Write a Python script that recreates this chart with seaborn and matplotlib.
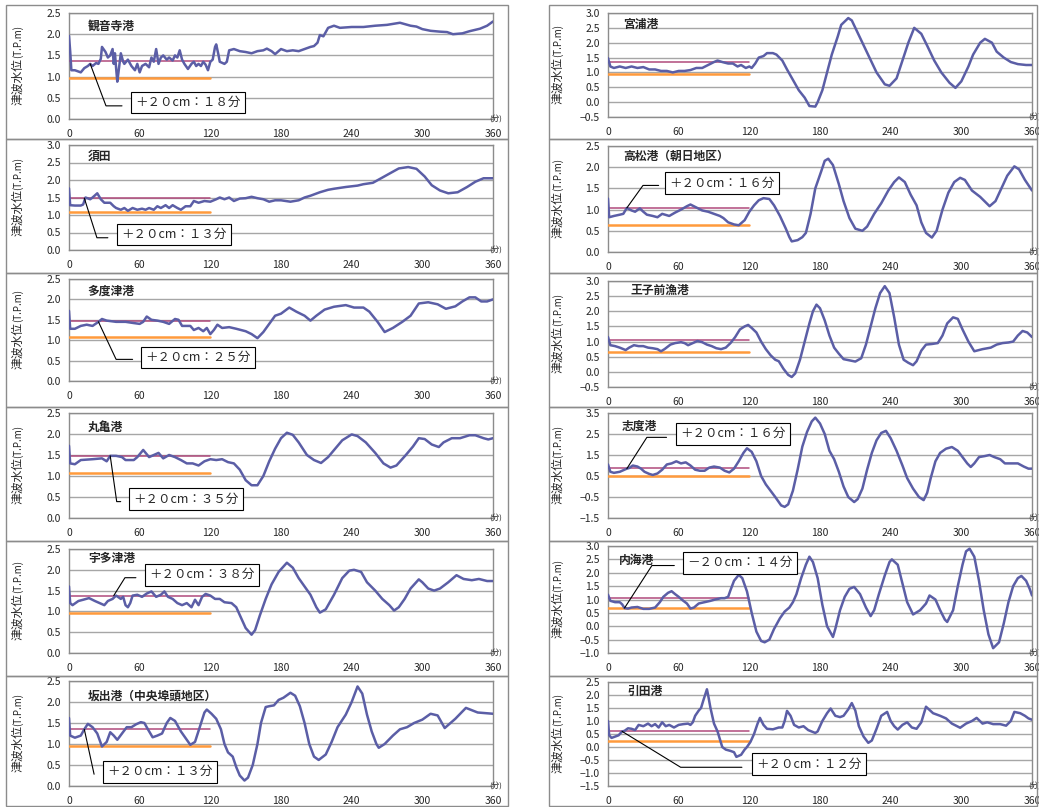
import matplotlib
matplotlib.use("Agg")
import matplotlib.pyplot as plt
import seaborn as sns
from matplotlib.patches import Rectangle
from matplotlib.ticker import FixedLocator, FuncFormatter

sns.set_style("white")
plt.rcParams["font.family"] = ["Noto Sans CJK JP", "DejaVu Sans"]

# ---------------------------------------------------------------- data
minute_ticks = [0, 60, 120, 180, 240, 300, 360]

# 観音寺港
kanonji_t = [0, 1, 2, 5, 8, 10, 13, 16, 18, 20,
             23, 25, 27, 28, 30, 31, 33, 35, 37, 38,
             39, 40, 41, 42, 44, 46, 47, 50, 53, 56,
             58, 60, 62, 65, 68, 70, 72, 74, 76, 78,
             80, 83, 85, 88, 90, 92, 94, 96, 98, 101,
             104, 106, 108, 110, 112, 114, 116, 118, 120, 122,
             124, 125, 127, 128, 132, 134, 136, 140, 145, 150,
             155, 160, 165, 168, 172, 175, 180, 185, 190, 195,
             200, 205, 208, 211, 213, 216, 218, 220, 225, 230,
             240, 250, 260, 270, 281, 290, 295, 300, 307, 315,
             321, 326, 334, 340, 349, 355, 360]
kanonji_lv = [1.96, 1.6, 1.15, 1.15, 1.12, 1.1, 1.2, 1.25, 1.3, 1.25,
              1.32, 1.3, 1.42, 1.7, 1.62, 1.58, 1.45, 1.5, 1.65, 1.3,
              1.55, 1.2, 0.88, 1.1, 1.55, 1.35, 1.3, 1.4, 1.25, 1.15,
              1.3, 1.1, 1.25, 1.3, 1.22, 1.45, 1.35, 1.65, 1.3, 1.45,
              1.5, 1.4, 1.45, 1.38, 1.5, 1.45, 1.62, 1.4, 1.3, 1.18,
              1.3, 1.35, 1.25, 1.3, 1.25, 1.35, 1.28, 1.15, 1.35, 1.4,
              1.7, 1.76, 1.5, 1.35, 1.3, 1.35, 1.62, 1.65, 1.6, 1.58,
              1.55, 1.6, 1.62, 1.66, 1.6, 1.53, 1.65, 1.6, 1.62, 1.6,
              1.65, 1.7, 1.72, 1.8, 1.98, 1.95, 2.05, 2.15, 2.2, 2.15,
              2.17, 2.17, 2.2, 2.22, 2.27, 2.2, 2.18, 2.12, 2.08, 2.06,
              2.05, 2.0, 2.02, 2.07, 2.13, 2.2, 2.3]

# 須田
suda_t = [0, 1, 5, 10, 12, 14, 18, 20, 24, 27,
          30, 35, 38, 40, 44, 47, 50, 54, 58, 62,
          65, 68, 72, 75, 78, 82, 85, 88, 92, 95,
          99, 103, 106, 110, 115, 120, 125, 128, 132, 136,
          140, 145, 150, 155, 160, 165, 170, 175, 180, 188,
          195, 200, 205, 213, 220, 225, 235, 245, 250, 258,
          265, 273, 280, 288, 295, 302, 308, 315, 322, 330,
          338, 345, 352, 360]
suda_lv = [1.76, 1.28, 1.27, 1.27, 1.3, 1.5, 1.45, 1.5, 1.62, 1.45,
           1.35, 1.35, 1.25, 1.2, 1.15, 1.2, 1.12, 1.2, 1.15, 1.18,
           1.15, 1.2, 1.15, 1.25, 1.2, 1.28, 1.2, 1.28, 1.2, 1.15,
           1.25, 1.25, 1.4, 1.35, 1.4, 1.38, 1.45, 1.5, 1.45, 1.5,
           1.4, 1.47, 1.48, 1.52, 1.48, 1.45, 1.38, 1.42, 1.42, 1.38,
           1.42, 1.5, 1.55, 1.65, 1.72, 1.75, 1.8, 1.84, 1.88, 1.92,
           2.05, 2.2, 2.33, 2.37, 2.32, 2.1, 1.85, 1.7, 1.62, 1.65,
           1.8, 1.95, 2.05, 2.05]

# 多度津港
tadotsu_t = [0, 1, 5, 10, 15, 20, 25, 28, 32, 40,
             48, 55, 60, 63, 66, 70, 75, 80, 85, 90,
             93, 96, 103, 106, 110, 114, 117, 120, 123, 126,
             130, 136, 142, 150, 155, 160, 165, 170, 175, 180,
             187, 193, 200, 205, 210, 217, 225, 235, 242, 250,
             255, 262, 268, 275, 283, 290, 297, 305, 313, 320,
             328, 334, 340, 345, 350, 355, 360]
tadotsu_lv = [1.72, 1.28, 1.28, 1.35, 1.38, 1.35, 1.45, 1.52, 1.48, 1.45,
              1.45, 1.42, 1.4, 1.45, 1.58, 1.5, 1.48, 1.45, 1.4, 1.52,
              1.5, 1.35, 1.35, 1.25, 1.3, 1.22, 1.3, 1.15, 1.25, 1.38,
              1.3, 1.32, 1.28, 1.22, 1.15, 1.05, 1.2, 1.4, 1.6, 1.65,
              1.8, 1.7, 1.6, 1.48, 1.6, 1.75, 1.82, 1.86, 1.8, 1.8,
              1.7, 1.45, 1.2, 1.3, 1.45, 1.6, 1.9, 1.93, 1.88, 1.77,
              1.83, 1.95, 2.05, 2.05, 1.95, 1.95, 2.0]

# 丸亀港
marugame_t = [0, 1, 5, 10, 20, 28, 32, 35, 40, 45,
              48, 55, 58, 63, 68, 72, 76, 80, 85, 90,
              95, 100, 105, 110, 115, 120, 125, 130, 135, 140,
              145, 150, 155, 160, 165, 170, 175, 180, 185, 190,
              195, 202, 208, 214, 220, 226, 232, 240, 245, 252,
              260, 267, 273, 278, 286, 292, 297, 302, 308, 314,
              318, 325, 332, 340, 345, 352, 356, 360]
marugame_lv = [1.72, 1.3, 1.28, 1.38, 1.4, 1.42, 1.35, 1.48, 1.48, 1.45,
               1.38, 1.38, 1.45, 1.62, 1.45, 1.5, 1.55, 1.42, 1.5, 1.45,
               1.38, 1.3, 1.3, 1.25, 1.35, 1.4, 1.38, 1.4, 1.33, 1.3,
               1.15, 0.9, 0.78, 0.78, 1.0, 1.35, 1.65, 1.9, 2.03, 1.98,
               1.8, 1.5, 1.38, 1.31, 1.45, 1.65, 1.85, 1.99, 1.95, 1.8,
               1.55, 1.3, 1.2, 1.25, 1.5, 1.7, 1.9, 1.88, 1.75, 1.69,
               1.8, 1.9, 1.9, 1.97, 1.97, 1.9, 1.87, 1.9]

# 宇多津港
utazu_t = [0, 1, 3, 8, 12, 17, 22, 26, 30, 33,
           37, 40, 44, 46, 48, 50, 52, 54, 58, 62,
           66, 70, 74, 78, 81, 84, 88, 92, 96, 100,
           104, 107, 110, 113, 116, 120, 124, 128, 132, 138,
           142, 146, 150, 155, 158, 162, 167, 172, 178, 185,
           190, 195, 200, 205, 210, 213, 218, 225, 232, 238,
           242, 248, 253, 260, 266, 272, 276, 280, 285, 290,
           297, 300, 305, 310, 315, 322, 329, 335, 342, 348,
           355, 360]
utazu_lv = [1.6, 1.2, 1.15, 1.25, 1.28, 1.32, 1.25, 1.2, 1.15, 1.25,
            1.3, 1.38, 1.3, 1.35, 1.15, 1.1, 1.2, 1.38, 1.4, 1.35,
            1.43, 1.48, 1.35, 1.4, 1.48, 1.35, 1.3, 1.2, 1.15, 1.2,
            1.1, 1.28, 1.15, 1.35, 1.42, 1.38, 1.3, 1.3, 1.22, 1.2,
            1.1, 0.85, 0.6, 0.44, 0.55, 0.9, 1.3, 1.65, 1.95, 2.17,
            2.05, 1.8, 1.6, 1.4, 1.1, 0.97, 1.05, 1.4, 1.8, 1.98,
            2.0, 1.95, 1.7, 1.5, 1.3, 1.15, 1.02, 1.1, 1.3, 1.55,
            1.77, 1.7, 1.55, 1.5, 1.55, 1.7, 1.87, 1.78, 1.75, 1.78,
            1.73, 1.73]

# 坂出港（中央埠頭地区）
sakaide_t = [0, 1, 5, 10, 13, 16, 20, 24, 28, 32,
             35, 38, 41, 45, 49, 53, 57, 61, 64, 67,
             71, 75, 79, 83, 86, 90, 95, 100, 103, 107,
             111, 115, 117, 121, 125, 129, 132, 135, 139, 142,
             145, 149, 152, 156, 160, 163, 167, 170, 174, 178,
             182, 188, 192, 196, 200, 204, 208, 212, 218, 223,
             228, 235, 240, 245, 249, 253, 257, 261, 263, 268,
             275, 281, 287, 293, 300, 307, 313, 319, 328, 337,
             347, 360]
sakaide_lv = [1.62, 1.2, 1.15, 1.2, 1.35, 1.48, 1.4, 1.25, 0.94, 1.05,
              1.28, 1.2, 1.1, 1.25, 1.4, 1.4, 1.47, 1.52, 1.5, 1.35,
              1.16, 1.2, 1.25, 1.5, 1.62, 1.55, 1.3, 1.1, 0.98, 1.05,
              1.4, 1.75, 1.82, 1.72, 1.6, 1.35, 1.0, 0.8, 0.7, 0.45,
              0.25, 0.13, 0.2, 0.5, 1.0, 1.5, 1.88, 1.9, 1.92, 2.05,
              2.1, 2.22, 2.15, 1.9, 1.5, 1.0, 0.7, 0.62, 0.75, 1.05,
              1.4, 1.7, 2.0, 2.37, 2.2, 1.7, 1.3, 1.0, 0.91, 1.0,
              1.2, 1.35, 1.4, 1.5, 1.58, 1.72, 1.68, 1.38, 1.6, 1.86,
              1.75, 1.72]

# 宮浦港
miyaura_t = [0, 2, 5, 10, 15, 20, 25, 30, 35, 40,
             45, 50, 55, 60, 65, 70, 75, 80, 85, 90,
             93, 97, 102, 106, 110, 113, 117, 120, 122, 125,
             128, 132, 135, 140, 143, 148, 152, 157, 162, 167,
             171, 176, 178, 182, 186, 190, 195, 198, 204, 207,
             210, 216, 222, 228, 235, 239, 245, 250, 255, 260,
             266, 271, 277, 283, 290, 295, 300, 306, 310, 316,
             320, 326, 330, 336, 342, 348, 355, 360]
miyaura_lv = [1.48, 1.2, 1.15, 1.2, 1.15, 1.2, 1.15, 1.18, 1.1, 1.1,
              1.05, 1.05, 1.0, 1.05, 1.05, 1.08, 1.15, 1.15, 1.25, 1.35,
              1.4, 1.35, 1.3, 1.3, 1.2, 1.25, 1.15, 1.2, 1.15, 1.3,
              1.5, 1.55, 1.65, 1.65, 1.6, 1.4, 1.1, 0.75, 0.4, 0.15,
              -0.13, -0.15, 0.0, 0.4, 1.0, 1.6, 2.2, 2.6, 2.83, 2.75,
              2.5, 2.0, 1.5, 1.0, 0.6, 0.55, 0.8, 1.4, 2.0, 2.5,
              2.3, 1.9, 1.4, 1.0, 0.65, 0.48, 0.7, 1.2, 1.6, 2.0,
              2.13, 2.0, 1.7, 1.5, 1.35, 1.28, 1.25, 1.25]

# 高松港（朝日地区）
takamatsu_t = [0, 1, 5, 10, 13, 16, 20, 23, 27, 30,
               33, 38, 42, 46, 52, 57, 62, 67, 70, 75,
               80, 85, 90, 95, 98, 102, 107, 111, 116, 120,
               124, 128, 132, 137, 141, 146, 151, 154, 156, 161,
               165, 168, 172, 176, 181, 184, 187, 191, 196, 200,
               205, 210, 216, 220, 226, 232, 238, 243, 247, 252,
               257, 262, 266, 270, 275, 279, 284, 289, 294, 299,
               303, 309, 316, 324, 329, 334, 339, 345, 349, 354,
               360]
takamatsu_lv = [1.26, 0.82, 0.85, 0.88, 0.9, 1.04, 0.98, 0.95, 1.03, 0.95,
                0.88, 0.85, 0.82, 0.9, 0.85, 0.93, 1.0, 1.08, 1.12, 1.05,
                0.98, 0.95, 0.9, 0.85, 0.8, 0.7, 0.65, 0.63, 0.75, 0.95,
                1.1, 1.22, 1.27, 1.25, 1.1, 0.85, 0.55, 0.35, 0.25, 0.28,
                0.35, 0.45, 0.9, 1.5, 1.9, 2.15, 2.2, 2.05, 1.6, 1.2,
                0.8, 0.55, 0.5, 0.6, 0.9, 1.15, 1.45, 1.65, 1.76, 1.65,
                1.35, 1.1, 0.7, 0.45, 0.34, 0.5, 1.0, 1.4, 1.65, 1.75,
                1.7, 1.45, 1.3, 1.08, 1.2, 1.5, 1.8, 2.02, 1.95, 1.7,
                1.45]

# 王子前漁港
ojimae_t = [0, 2, 6, 10, 15, 18, 22, 26, 30, 34,
            38, 42, 45, 48, 53, 57, 62, 65, 68, 72,
            76, 80, 84, 88, 92, 96, 100, 104, 108, 112,
            116, 119, 122, 126, 130, 134, 138, 142, 145, 149,
            153, 156, 159, 163, 167, 171, 174, 177, 180, 184,
            188, 192, 196, 200, 205, 210, 215, 219, 223, 227,
            231, 235, 239, 243, 247, 251, 255, 259, 262, 266,
            270, 275, 280, 284, 288, 293, 297, 301, 306, 311,
            318, 325, 330, 335, 340, 344, 348, 352, 356, 360]
ojimae_lv = [1.15, 0.88, 0.85, 0.8, 0.72, 0.8, 0.88, 0.85, 0.85, 0.8,
             0.78, 0.75, 0.68, 0.75, 0.9, 0.95, 0.98, 0.95, 0.88, 0.95,
             1.02, 0.98, 0.9, 0.85, 0.78, 0.75, 0.8, 0.95, 1.15, 1.4,
             1.5, 1.55, 1.45, 1.3, 1.0, 0.75, 0.55, 0.4, 0.35, 0.1,
             -0.1, -0.17, -0.05, 0.4, 1.0, 1.6, 2.0, 2.22, 2.1, 1.7,
             1.2, 0.8, 0.6, 0.42, 0.38, 0.34, 0.45, 0.9, 1.5, 2.1,
             2.6, 2.83, 2.6, 1.8, 0.9, 0.4, 0.3, 0.22, 0.35, 0.7,
             0.9, 0.92, 0.95, 1.2, 1.6, 1.8, 1.75, 1.4, 1.0, 0.68,
             0.75, 0.8, 0.9, 0.95, 0.97, 1.0, 1.2, 1.35, 1.3, 1.15]

# 志度港
shido_t = [0, 2, 5, 10, 16, 18, 21, 25, 28, 31,
           35, 38, 42, 46, 50, 54, 58, 62, 66, 70,
           74, 78, 82, 86, 90, 95, 99, 103, 107, 111,
           115, 118, 122, 126, 130, 134, 138, 142, 147, 150,
           153, 157, 161, 165, 169, 173, 176, 180, 184, 188,
           192, 196, 200, 204, 209, 212, 216, 220, 224, 228,
           232, 236, 240, 245, 250, 254, 259, 264, 268, 271,
           274, 278, 282, 287, 292, 297, 301, 305, 308, 311,
           315, 320, 324, 328, 333, 337, 342, 348, 353, 357,
           360]
shido_lv = [1.05, 0.7, 0.65, 0.7, 0.85, 0.88, 1.0, 0.95, 0.85, 0.7,
            0.6, 0.55, 0.62, 0.8, 1.05, 1.1, 1.2, 1.1, 1.15, 1.0,
            0.8, 0.75, 0.75, 0.9, 0.95, 0.9, 0.75, 0.67, 0.85, 1.2,
            1.6, 1.82, 1.65, 1.2, 0.5, 0.1, -0.2, -0.5, -0.9, -0.97,
            -0.85, -0.2, 0.8, 1.9, 2.6, 3.1, 3.28, 3.0, 2.5, 1.7,
            1.3, 0.7, 0.0, -0.5, -0.74, -0.6, -0.1, 0.8, 1.6, 2.2,
            2.55, 2.65, 2.3, 1.7, 1.0, 0.4, -0.1, -0.5, -0.65, -0.3,
            0.4, 1.2, 1.6, 1.8, 1.88, 1.7, 1.4, 1.1, 0.93, 1.1,
            1.4, 1.45, 1.5, 1.4, 1.3, 1.1, 1.1, 1.1, 0.95, 0.85,
            0.85]

# 内海港
uchinomi_t = [0, 2, 6, 10, 12, 14, 17, 20, 25, 30,
              35, 40, 44, 47, 51, 54, 57, 60, 64, 67,
              70, 73, 77, 82, 87, 91, 96, 99, 102, 104,
              107, 111, 114, 118, 122, 126, 130, 133, 137, 141,
              146, 150, 154, 157, 160, 164, 168, 171, 174, 178,
              182, 186, 191, 193, 197, 201, 205, 209, 214, 219,
              223, 226, 230, 235, 239, 241, 246, 250, 254, 259,
              265, 270, 273, 278, 282, 286, 288, 293, 297, 301,
              304, 307, 311, 315, 319, 323, 327, 332, 336, 340,
              344, 348, 351, 355, 358, 360]
uchinomi_lv = [1.18, 0.95, 0.9, 0.9, 0.82, 0.68, 0.66, 0.7, 0.72, 0.65,
               0.65, 0.7, 0.9, 1.1, 1.25, 1.31, 1.2, 1.1, 0.95, 0.85,
               0.66, 0.7, 0.85, 0.9, 0.95, 1.0, 1.05, 1.05, 1.1, 1.35,
               1.7, 1.92, 1.8, 1.3, 0.5, -0.2, -0.55, -0.6, -0.5, -0.1,
               0.3, 0.55, 0.7, 0.9, 1.2, 1.8, 2.3, 2.6, 2.4, 1.8,
               0.8, 0.0, -0.4, -0.1, 0.6, 1.1, 1.4, 1.47, 1.2, 0.7,
               0.38, 0.6, 1.2, 1.9, 2.4, 2.5, 2.3, 1.6, 0.9, 0.44,
               0.6, 0.85, 1.15, 1.0, 0.6, 0.25, 0.16, 0.6, 1.5, 2.3,
               2.8, 2.9, 2.6, 1.7, 0.6, -0.3, -0.82, -0.6, 0.1, 0.9,
               1.5, 1.8, 1.88, 1.7, 1.4, 1.15]

# 引田港
hiketa_t = [0, 1, 3, 6, 9, 12, 14, 17, 20, 23,
            26, 30, 34, 37, 40, 43, 46, 49, 52, 56,
            60, 64, 68, 70, 72, 74, 77, 79, 81, 84,
            85, 87, 90, 93, 95, 97, 100, 104, 107, 109,
            113, 116, 118, 121, 124, 127, 129, 132, 135, 140,
            145, 148, 150, 152, 155, 158, 162, 166, 170, 176,
            178, 182, 186, 189, 193, 197, 200, 204, 207, 210,
            213, 217, 221, 224, 228, 232, 237, 240, 243, 246,
            250, 254, 258, 262, 266, 270, 276, 282, 287, 292,
            299, 304, 309, 313, 318, 322, 327, 333, 338, 342,
            345, 350, 354, 357, 360]
hiketa_lv = [1.0, 0.45, 0.35, 0.4, 0.45, 0.6, 0.62, 0.72, 0.7, 0.65,
             0.85, 0.8, 0.9, 0.8, 0.88, 0.75, 0.95, 0.8, 0.85, 0.75,
             0.85, 0.88, 0.9, 0.85, 0.95, 1.2, 1.4, 1.5, 1.8, 2.22,
             2.0, 1.5, 0.9, 0.6, 0.3, 0.0, -0.1, -0.15, -0.2, -0.38,
             -0.3, -0.1, 0.0, 0.2, 0.5, 0.9, 1.12, 0.85, 0.7, 0.68,
             0.75, 0.75, 1.0, 1.39, 1.2, 0.85, 0.75, 0.8, 0.65, 0.54,
             0.6, 1.0, 1.3, 1.48, 1.2, 1.15, 1.2, 1.45, 1.69, 1.4,
             0.8, 0.4, 0.16, 0.25, 0.7, 1.2, 1.35, 1.0, 0.8, 0.67,
             0.85, 0.95, 0.75, 0.7, 0.95, 1.55, 1.3, 1.2, 1.1, 0.9,
             0.74, 0.9, 1.0, 1.12, 0.9, 0.95, 0.88, 0.88, 0.82, 1.0,
             1.35, 1.3, 1.2, 1.1, 1.05]

station_names = ["観音寺港", "須田", "多度津港", "丸亀港", "宇多津港", "坂出港（中央埠頭地区）",
                 "宮浦港", "高松港（朝日地区）", "王子前漁港", "志度港", "内海港", "引田港"]
series_t = [kanonji_t, suda_t, tadotsu_t, marugame_t, utazu_t, sakaide_t,
            miyaura_t, takamatsu_t, ojimae_t, shido_t, uchinomi_t, hiketa_t]
series_lv = [kanonji_lv, suda_lv, tadotsu_lv, marugame_lv, utazu_lv, sakaide_lv,
             miyaura_lv, takamatsu_lv, ojimae_lv, shido_lv, uchinomi_lv, hiketa_lv]

# reference levels drawn over the first 120 minutes (T.P.m)
upper_levels = [1.37, 1.48, 1.47, 1.48, 1.38, 1.36, 1.35, 1.03, 1.05, 0.88, 1.07, 0.62]
lower_levels = [0.97, 1.08, 1.07, 1.08, 0.97, 0.96, 0.95, 0.63, 0.65, 0.48, 0.67, 0.22]

# y-axis ranges and steps
y_ranges = [(0.0, 2.5, 0.5), (0.0, 3.0, 0.5), (0.0, 2.5, 0.5), (0.0, 2.5, 0.5),
            (0.0, 2.5, 0.5), (0.0, 2.5, 0.5),
            (-0.5, 3.0, 0.5), (0.0, 2.5, 0.5), (-0.5, 3.0, 0.5), (-1.5, 3.5, 1.0),
            (-1.0, 3.0, 0.5), (-1.5, 2.5, 0.5)]

# arrival notes: text and the minute it points at on the trace
note_texts = ["＋２０cm：１８分", "＋２０cm：１３分", "＋２０cm：２５分", "＋２０cm：３５分",
              "＋２０cm：３８分", "＋２０cm：１３分", None, "＋２０cm：１６分", None,
              "＋２０cm：１６分", "－２０cm：１４分", "＋２０cm：１２分"]
note_minutes = [18, 13, 25, 35, 38, 13, None, 16, None, 16, 14, 12]

# ---------------------------------------------------------------- layout
W, H = 1039, 807
fig = plt.figure(figsize=(W / 100, H / 100), dpi=100)
fig.patch.set_facecolor("white")

col_x = [(69, 493), (608, 1032)]
frame_x = [(6, 508), (549, 1037)]
plot_rows = [[(13, 119), (145, 250), (279, 381), (413, 518), (549, 653), (681, 786)],
             [(13, 117), (146, 252), (281, 387), (413, 518), (546, 653), (682, 786)]]
frame_rows = [(5, 139), (139, 273), (273, 407), (407, 541), (541, 676), (676, 806)]
label_x = [18, 558]

# leader-line bends and box centres, per panel (minutes, level)
leader_bends = [[(31.4, 0.31), (45, 0.31)], [(23.7, 0.35), (33, 0.35)],
                [(40, 0.53), (54, 0.53)], [(40.5, 0.39), (43.9, 0.39)],
                [(47.5, 1.81), (56.8, 1.81)], [(21.3, 0.28)],
                None, [(29.7, 1.57), (43, 1.57)], None,
                [(33, 2.34), (49.7, 2.34)], [(37.3, 2.27), (56.3, 2.27)],
                [(61.7, -0.78), (113.7, -0.78)]]
box_centres = [(101, 0.39), (89.4, 0.44), (109.5, 0.575), (99, 0.445),
               (112.6, 1.88), (77.6, 0.34), None, (96.5, 1.625), None,
               (105.8, 2.51), (112.2, 2.37), (170.4, -0.66)]
title_pos = [(16, 2.19), (16, 2.67), (16, 2.19), (16, 2.17), (16, 2.28), (15.6, 2.15),
             (12.7, 2.62), (12.7, 2.25), (18.7, 2.68), (11.6, 2.85), (9.6, 2.45), (16.4, 2.13)]

TRACE = "#5b5ea6"
UPPER = "#b04a7c"
LOWER = "#ff9a3c"
GRID = "#a6a6a6"
EDGE = "#8c8c8c"


def fmt_level(v, _pos):
    return f"{v:.1f}".replace("-", "−")


for i in range(12):
    col, row = divmod(i, 6)
    x0, x1 = col_x[col]
    top, bot = plot_rows[col][row]
    fx0, fx1 = frame_x[col]
    ftop, fbot = frame_rows[row]

    fig.patches.append(Rectangle((fx0 / W, 1 - fbot / H), (fx1 - fx0) / W, (fbot - ftop) / H,
                                 transform=fig.transFigure, fill=False, ec=EDGE, lw=1.0, zorder=0))

    ax = fig.add_axes([x0 / W, 1 - bot / H, (x1 - x0) / W, (bot - top) / H])
    ax.set_facecolor("white")

    sns.lineplot(x=series_t[i], y=series_lv[i], ax=ax, color=TRACE, lw=1.8,
                 estimator=None, sort=False, zorder=4)
    ax.plot([0, 120], [upper_levels[i]] * 2, color=UPPER, lw=1.1, zorder=3)
    ax.plot([0, 120], [lower_levels[i]] * 2, color=LOWER, lw=1.8, zorder=3)

    lo, hi, step = y_ranges[i]
    n = int(round((hi - lo) / step))
    ax.set_ylim(lo, hi)
    ax.set_xlim(0, 360)
    ax.yaxis.set_major_locator(FixedLocator([lo + k * step for k in range(n + 1)]))
    ax.yaxis.set_major_formatter(FuncFormatter(fmt_level))
    ax.xaxis.set_major_locator(FixedLocator(minute_ticks))
    ax.set_xticklabels([str(m) for m in minute_ticks])
    ax.yaxis.grid(True, color=GRID, lw=1.0)
    ax.xaxis.grid(False)
    ax.set_axisbelow(True)
    for s in ax.spines.values():
        s.set_color(EDGE)
        s.set_linewidth(1.0)
    ax.tick_params(axis="y", length=3, color=EDGE, pad=3, labelsize=7.5)
    ax.tick_params(axis="x", length=0, pad=7, labelsize=7.5)
    ax.set_xlabel("")
    ax.set_ylabel("")

    ax.text(362, lo, "(分)", ha="center", va="center", fontsize=5.5, clip_on=False)

    tx, ty = title_pos[i]
    ax.text(tx, ty, station_names[i], ha="left", va="center", fontsize=8.5,
            fontweight="bold", zorder=6)

    if note_texts[i] is not None:
        m = note_minutes[i]
        start = (m, series_lv[i][series_t[i].index(m)]) if m in series_t[i] else (m, upper_levels[i])
        pts = [start] + leader_bends[i]
        ax.plot([p[0] for p in pts], [p[1] for p in pts], color="black", lw=0.8, zorder=5)
        bx, by = box_centres[i]
        ax.text(bx, by, note_texts[i], ha="center", va="center", fontsize=9, zorder=7,
                bbox=dict(boxstyle="square,pad=0.35", fc="white", ec="black", lw=0.8))

    # y-axis caption: kanji part below, unit part above
    yc = (top + bot) / 2 - 8
    fig.text(label_x[col] / W, 1 - yc / H, "津波水位", rotation=90, ha="center", va="top",
             fontsize=8.5)
    fig.text(label_x[col] / W, 1 - yc / H, "(T.P.m)", rotation=90, ha="center", va="bottom",
             fontsize=7)

fig.savefig("out.png", dpi=100, facecolor="white")
